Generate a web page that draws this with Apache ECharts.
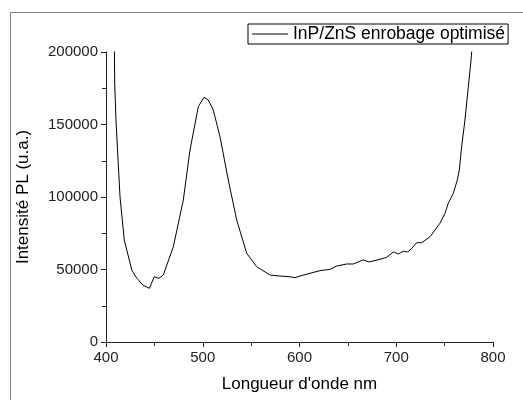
<!DOCTYPE html>
<html>
<head>
<meta charset="utf-8">
<script src="https://cdn.jsdelivr.net/npm/echarts@6/dist/echarts.min.js"></script>
<style>html,body{margin:0;padding:0;background:#fff;}#c{width:523px;height:400px;}</style>
</head>
<body>
<div id="c"></div>
<script>
var seriesName = 'InP/ZnS enrobage optimisé';
var wavelength = [408.3, 409, 410.3, 414.5, 418.9, 426.6, 431, 437.9, 444.8, 449.9, 454.8, 459.2, 469.6, 479.9, 486.8, 495.4, 501.3, 505.7, 510.9, 517.8, 526.4, 535.1, 545.4, 555.8, 569.5, 579.8, 590.2, 595.3, 600.5, 610.9, 621.2, 631.5, 638.4, 648.8, 655.6, 665.9, 672.1, 683.2, 690.1, 697, 702.1, 707.3, 711.8, 716, 721.1, 726.3, 734.9, 740, 745.2, 750.4, 753.8, 759, 763.1, 765.2, 767.6, 771, 774.5, 777.3, 778, 779];
var intensity = [230000, 178600, 153100, 100000, 70300, 49700, 44800, 39300, 37000, 45000, 43900, 46200, 65700, 97900, 132400, 162300, 168800, 166900, 160000, 141600, 111700, 84100, 61200, 51900, 46200, 45500, 45000, 44300, 45500, 47400, 49200, 50100, 52400, 53800, 53800, 56600, 55200, 57000, 58400, 62100, 60700, 62600, 62100, 64600, 68500, 68500, 72600, 77200, 81900, 88800, 95700, 102600, 111700, 118600, 134700, 153100, 176100, 194500, 200200, 212000];
var xTicks = [400, 500, 600, 700, 800];
var yTicks = [0, 50000, 100000, 150000, 200000];

var chart = echarts.init(document.getElementById('c'), null, {renderer: 'canvas'});
var data = wavelength.map(function (w, i) { return [w, intensity[i]]; });
var font = '"Liberation Sans", Arial, sans-serif';
var axisCol = '#222';
chart.setOption({
  animation: false,
  backgroundColor: '#fff',
  graphic: [{
    type: 'rect', left: 8, top: 10, silent: true,
    shape: {width: 540, height: 420},
    style: {fill: 'none', stroke: '#808080', lineWidth: 1}
  }],
  grid: {left: 106, top: 52, right: 30, bottom: 58, containLabel: false},
  legend: {
    left: 248, top: 24,
    padding: [1, 3, 1, 4],
    borderColor: '#000', borderWidth: 1,
    itemWidth: 36, itemHeight: 1,
    data: [{name: seriesName, icon: 'rect'}],
    textStyle: {fontFamily: font, fontSize: 17.5, color: '#000'}
  },
  xAxis: {
    type: 'value', min: xTicks[0], max: xTicks[xTicks.length - 1], interval: 100,
    name: 'Longueur d\'onde nm', nameLocation: 'middle', nameGap: 34,
    nameTextStyle: {fontFamily: font, fontSize: 17, color: '#000'},
    axisLine: {lineStyle: {color: axisCol, width: 1}},
    axisTick: {show: true, length: 5, lineStyle: {color: axisCol}},
    minorTick: {show: true, splitNumber: 2, length: 4, lineStyle: {color: axisCol}},
    splitLine: {show: false},
    axisLabel: {fontFamily: font, fontSize: 15, color: '#222', margin: 8, formatter: function (v) { return String(v); }}
  },
  yAxis: {
    type: 'value', min: yTicks[0], max: yTicks[yTicks.length - 1], interval: 50000,
    name: 'Intensité PL (u.a.)', nameLocation: 'middle', nameGap: 74, nameRotate: 90,
    nameTextStyle: {fontFamily: font, fontSize: 17, color: '#000'},
    axisLine: {show: true, lineStyle: {color: axisCol, width: 1}},
    axisTick: {show: true, length: 5, lineStyle: {color: axisCol}},
    minorTick: {show: true, splitNumber: 2, length: 4, lineStyle: {color: axisCol}},
    splitLine: {show: false},
    axisLabel: {fontFamily: font, fontSize: 15, color: '#222', margin: 8, formatter: function (v) { return String(v); }}
  },
  series: [{
    name: seriesName, type: 'line', data: data, clip: true,
    showSymbol: false, symbol: 'none', smooth: false,
    lineStyle: {color: '#000', width: 1},
    itemStyle: {color: '#000'}
  }]
});
</script>
</body>
</html>
